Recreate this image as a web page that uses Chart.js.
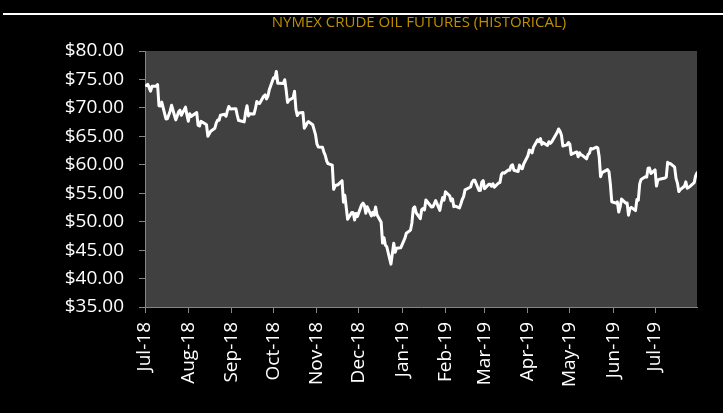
<!DOCTYPE html>
<html>
<head>
<meta charset="utf-8">
<title>NYMEX Crude Oil Futures</title>
<script src="https://cdn.jsdelivr.net/npm/chart.js@4.4.1/dist/chart.umd.min.js"></script>
<style>
  html, body { margin: 0; padding: 0; background: #000; }
  canvas { display: block; }
</style>
</head>
<body>
<canvas id="oil" width="723" height="413"></canvas>
<script>
// NYMEX WTI front-month settlements, Jul 2018 – Jul 2019
const tradeDates = [
  '2018-07-02','2018-07-03','2018-07-05','2018-07-06','2018-07-09','2018-07-10','2018-07-11','2018-07-12','2018-07-13','2018-07-16','2018-07-17','2018-07-18','2018-07-19','2018-07-20','2018-07-23','2018-07-24','2018-07-25','2018-07-26','2018-07-27','2018-07-30','2018-07-31',
  '2018-08-01','2018-08-02','2018-08-03','2018-08-06','2018-08-07','2018-08-08','2018-08-09','2018-08-10','2018-08-13','2018-08-14','2018-08-15','2018-08-16','2018-08-17','2018-08-20','2018-08-21','2018-08-22','2018-08-23','2018-08-24','2018-08-27','2018-08-28','2018-08-29','2018-08-30','2018-08-31',
  '2018-09-04','2018-09-05','2018-09-06','2018-09-07','2018-09-10','2018-09-11','2018-09-12','2018-09-13','2018-09-14','2018-09-17','2018-09-18','2018-09-19','2018-09-20','2018-09-21','2018-09-24','2018-09-25','2018-09-26','2018-09-27','2018-09-28',
  '2018-10-01','2018-10-02','2018-10-03','2018-10-04','2018-10-05','2018-10-08','2018-10-09','2018-10-10','2018-10-11','2018-10-12','2018-10-15','2018-10-16','2018-10-17','2018-10-18','2018-10-19','2018-10-22','2018-10-23','2018-10-24','2018-10-25','2018-10-26','2018-10-29','2018-10-30','2018-10-31',
  '2018-11-01','2018-11-02','2018-11-05','2018-11-06','2018-11-07','2018-11-08','2018-11-09','2018-11-12','2018-11-13','2018-11-14','2018-11-15','2018-11-16','2018-11-19','2018-11-20','2018-11-21','2018-11-23','2018-11-26','2018-11-27','2018-11-28','2018-11-29','2018-11-30',
  '2018-12-03','2018-12-04','2018-12-05','2018-12-06','2018-12-07','2018-12-10','2018-12-11','2018-12-12','2018-12-13','2018-12-14','2018-12-17','2018-12-18','2018-12-19','2018-12-20','2018-12-21','2018-12-24','2018-12-26','2018-12-27','2018-12-28','2018-12-31',
  '2019-01-02','2019-01-03','2019-01-04','2019-01-07','2019-01-08','2019-01-09','2019-01-10','2019-01-11','2019-01-14','2019-01-15','2019-01-16','2019-01-17','2019-01-18','2019-01-22','2019-01-23','2019-01-24','2019-01-25','2019-01-28','2019-01-29','2019-01-30','2019-01-31',
  '2019-02-01','2019-02-04','2019-02-05','2019-02-06','2019-02-07','2019-02-08','2019-02-11','2019-02-12','2019-02-13','2019-02-14','2019-02-15','2019-02-19','2019-02-20','2019-02-21','2019-02-22','2019-02-25','2019-02-26','2019-02-27','2019-02-28',
  '2019-03-01','2019-03-04','2019-03-05','2019-03-06','2019-03-07','2019-03-08','2019-03-11','2019-03-12','2019-03-13','2019-03-14','2019-03-15','2019-03-18','2019-03-19','2019-03-20','2019-03-21','2019-03-22','2019-03-25','2019-03-26','2019-03-27','2019-03-28','2019-03-29',
  '2019-04-01','2019-04-02','2019-04-03','2019-04-04','2019-04-05','2019-04-08','2019-04-09','2019-04-10','2019-04-11','2019-04-12','2019-04-15','2019-04-16','2019-04-17','2019-04-18','2019-04-22','2019-04-23','2019-04-24','2019-04-25','2019-04-26','2019-04-29','2019-04-30',
  '2019-05-01','2019-05-02','2019-05-03','2019-05-06','2019-05-07','2019-05-08','2019-05-09','2019-05-10','2019-05-13','2019-05-14','2019-05-15','2019-05-16','2019-05-17','2019-05-20','2019-05-21','2019-05-22','2019-05-23','2019-05-24','2019-05-28','2019-05-29','2019-05-30','2019-05-31',
  '2019-06-03','2019-06-04','2019-06-05','2019-06-06','2019-06-07','2019-06-10','2019-06-11','2019-06-12','2019-06-13','2019-06-14','2019-06-17','2019-06-18','2019-06-19','2019-06-20','2019-06-21','2019-06-24','2019-06-25','2019-06-26','2019-06-27','2019-06-28',
  '2019-07-01','2019-07-02','2019-07-03','2019-07-05','2019-07-08','2019-07-09','2019-07-10','2019-07-11','2019-07-12','2019-07-15','2019-07-16','2019-07-17','2019-07-18','2019-07-19','2019-07-22','2019-07-23','2019-07-24','2019-07-25','2019-07-26','2019-07-29','2019-07-30','2019-07-31'
];

const closes = [
  73.94,74.14,72.94,73.80,73.85,74.11,70.38,70.33,71.01,68.06,68.08,68.76,69.46,70.46,67.89,68.52,69.30,69.61,68.69,70.13,68.76,
  67.66,68.96,68.49,69.01,69.17,66.94,66.81,67.63,67.20,67.04,65.01,65.46,65.91,66.43,67.35,67.86,67.83,68.72,68.87,68.53,69.51,70.25,69.80,
  69.87,68.72,67.77,67.75,67.54,69.25,70.37,68.59,68.99,68.91,69.85,71.12,70.80,70.78,72.08,72.28,71.57,72.12,73.25,
  75.30,75.23,76.41,74.33,74.34,74.29,74.96,73.17,70.97,71.34,71.78,72.92,69.75,68.65,69.12,69.17,66.43,66.82,67.33,67.59,67.04,66.18,65.31,
  63.69,63.14,63.10,62.21,61.67,60.67,60.19,59.93,55.69,56.25,56.46,56.46,57.20,53.43,54.63,50.42,51.63,51.56,50.29,51.45,50.93,
  52.95,53.25,52.89,51.49,52.61,51.00,51.65,51.15,52.58,51.20,49.88,46.24,47.20,45.88,45.59,42.53,46.22,44.61,45.33,45.41,
  46.54,47.09,47.96,48.52,49.78,52.36,52.59,51.59,50.51,52.11,52.31,52.07,53.80,52.57,52.62,53.13,53.69,51.99,53.31,54.23,53.79,
  55.26,54.56,53.66,54.01,52.64,52.72,52.41,53.10,53.90,54.41,55.59,56.09,56.92,57.26,57.26,55.48,55.50,56.94,57.22,
  55.80,56.59,56.56,56.22,56.66,56.07,56.79,56.87,58.26,58.61,58.52,59.09,59.03,59.83,59.98,59.04,58.82,59.94,59.41,59.30,60.14,
  61.59,62.58,62.46,62.10,63.08,64.40,64.05,64.61,63.58,63.89,63.40,64.05,63.76,64.00,65.70,66.30,65.89,65.21,63.30,63.50,63.91,
  63.60,61.81,61.94,62.25,61.40,62.12,61.70,61.66,61.04,61.78,62.02,62.87,62.76,63.10,62.99,61.42,57.91,58.63,59.14,58.81,56.59,53.50,
  53.25,53.48,51.68,52.59,53.99,53.26,53.27,51.14,52.28,52.51,51.93,53.90,53.76,56.65,57.43,57.90,57.83,59.38,59.43,58.47,
  59.09,56.25,57.34,57.51,57.66,57.83,60.43,60.20,60.21,59.58,57.62,56.78,55.30,55.63,56.22,57.00,55.88,56.02,56.20,56.87,58.05,58.58
];

// Month boundaries shown on the date axis
const monthStarts = [
  '2018-07-01','2018-08-01','2018-09-01','2018-10-01','2018-11-01','2018-12-01',
  '2019-01-01','2019-02-01','2019-03-01','2019-04-01','2019-05-01','2019-06-01','2019-07-01'
];
const monthLabels = [
  'Jul-18','Aug-18','Sep-18','Oct-18','Nov-18','Dec-18',
  'Jan-19','Feb-19','Mar-19','Apr-19','May-19','Jun-19','Jul-19'
];
const axisEnd = '2019-07-31';

const priceMin = 35;
const priceMax = 80;
const priceStep = 5;

const chartTitle = 'NYMEX CRUDE OIL FUTURES (HISTORICAL)';

// --- helpers -------------------------------------------------------------
const EPOCH = Date.UTC(2018, 6, 1);
function dayIndex(iso) {
  const [y, m, d] = iso.split('-').map(Number);
  return Math.round((Date.UTC(y, m - 1, d) - EPOCH) / 86400000);
}

if (tradeDates.length !== closes.length) {
  console.error('date/price length mismatch', tradeDates.length, closes.length);
}

const series = tradeDates.map((d, i) => ({ x: dayIndex(d), y: closes[i] }));
const monthTickDays = monthStarts.map(dayIndex);

// Black frame, the rule across the top, grey plot panel and the gold heading
const chartFrame = {
  id: 'chartFrame',
  beforeDraw(chart) {
    const { ctx, chartArea: a, width, height } = chart;
    ctx.save();
    ctx.fillStyle = '#000';
    ctx.fillRect(0, 0, width, height);
    ctx.fillStyle = '#ffffff';
    ctx.fillRect(3, 13, width - 3, 2);
    ctx.fillStyle = '#404040';
    ctx.fillRect(a.left, a.top, a.right - a.left, a.bottom - a.top);
    ctx.fillStyle = '#BF8F00';
    ctx.font = "15px 'Open Sans', sans-serif";
    ctx.textAlign = 'center';
    ctx.textBaseline = 'middle';
    ctx.fillText(chartTitle, (a.left + a.right) / 2 - 2, 23);
    ctx.restore();
  }
};

Chart.defaults.font.family = "'Open Sans', sans-serif";

const axisGrey = '#868686';

new Chart(document.getElementById('oil'), {
  type: 'line',
  data: {
    datasets: [{
      label: 'WTI',
      data: series,
      borderColor: '#ffffff',
      borderWidth: 3,
      borderJoinStyle: 'round',
      borderCapStyle: 'round',
      pointRadius: 0,
      tension: 0,
      fill: false
    }]
  },
  options: {
    responsive: false,
    animation: false,
    devicePixelRatio: 1,
    layout: { padding: { left: 0, right: 26, top: 51, bottom: 0 } },
    plugins: {
      legend: { display: false },
      tooltip: { enabled: false },
      title: { display: false }
    },
    scales: {
      x: {
        type: 'linear',
        min: 0,
        max: dayIndex(axisEnd),
        afterBuildTicks: scale => {
          scale.ticks = monthTickDays.map(v => ({ value: v }));
        },
        afterFit: scale => { scale.height = 106; },
        grid: { drawOnChartArea: false, drawTicks: true, tickLength: 6, color: axisGrey },
        border: { display: true, color: axisGrey, width: 1 },
        ticks: {
          autoSkip: false,
          maxRotation: 90,
          minRotation: 90,
          padding: 9,
          color: '#ffffff',
          font: { size: 19 },
          callback: (value, index) => monthLabels[index]
        }
      },
      y: {
        min: priceMin,
        max: priceMax,
        afterFit: scale => { scale.width = 145; },
        grid: { drawOnChartArea: false, drawTicks: true, tickLength: 6, color: axisGrey },
        border: { display: true, color: axisGrey, width: 1 },
        ticks: {
          stepSize: priceStep,
          padding: 15,
          color: '#ffffff',
          font: { size: 19 },
          callback: v => '$' + Number(v).toFixed(2)
        }
      }
    }
  },
  plugins: [chartFrame]
});
</script>
</body>
</html>
